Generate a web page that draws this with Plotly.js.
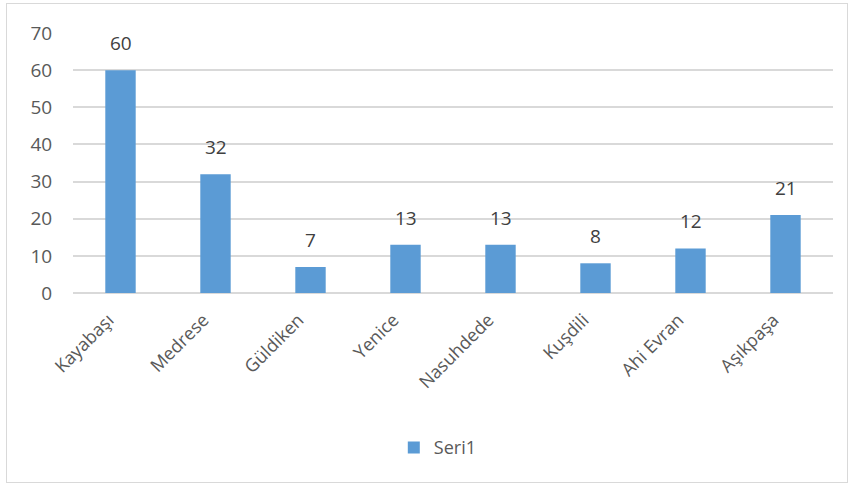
<!DOCTYPE html>
<html>
<head>
<meta charset="utf-8">
<script src="https://cdn.plot.ly/plotly-3.0.1.min.js"></script>
<style>
html,body{margin:0;padding:0;background:#fff;}
#wrap{position:relative;width:852px;height:486px;}
#chart{width:852px;height:486px;}
#frame{position:absolute;left:6px;top:3px;width:840px;height:478px;border:1.5px solid #d9d9d9;pointer-events:none;}
</style>
</head>
<body>
<div id="wrap"><div id="chart"></div><div id="frame"></div></div>
<script>
const categories = ["Kayabaşı", "Medrese", "Güldiken", "Yenice", "Nasuhdede", "Kuşdili", "Ahi Evran", "Aşıkpaşa"];
const values = [60, 32, 7, 13, 13, 8, 12, 21];
const seriesName = "Seri1";
const yTicks = [0, 10, 20, 30, 40, 50, 60, 70];

const font = "Open Sans, Noto Sans, sans-serif";
const trace = {
  type: "bar",
  x: categories,
  y: values,
  name: seriesName,
  marker: {color: "#5B9BD5"},
  hoverinfo: "x+y"
};
const annotations = categories.map((c, i) => ({
  x: c, y: values[i], xref: "x", yref: "y",
  text: String(values[i]), showarrow: false,
  yanchor: "bottom", yshift: 12,
  font: {family: font, size: 19, color: "#404040"}
}));
const layout = {
  width: 852, height: 486,
  margin: {l: 73, r: 19, t: 33, b: 193},
  paper_bgcolor: "#fff", plot_bgcolor: "#fff",
  bargap: 0.68,
  showlegend: true,
  legend: {orientation: "h", x: 0.48, xanchor: "center", y: -0.595, yanchor: "middle",
           itemwidth: 30,
           font: {family: font, size: 18, color: "#595959"}},
  xaxis: {type: "category", tickangle: -45, showgrid: false, zeroline: false,
          showline: false, ticks: "", ticklabelstandoff: 12, ticklabelshift: -12,
          tickfont: {family: font, size: 18, color: "#595959"}},
  yaxis: {range: [0, 70], tickvals: yTicks, showgrid: true, gridcolor: "#D9D9D9", gridwidth: 2,
          zeroline: true, zerolinecolor: "#D9D9D9", zerolinewidth: 2,
          ticks: "outside", ticklen: 16, tickcolor: "rgba(0,0,0,0)",
          tickfont: {family: font, size: 19, color: "#595959"}},
  annotations: annotations
};
Plotly.newPlot("chart", [trace], layout, {displayModeBar: false, staticPlot: true});
</script>
</body>
</html>
